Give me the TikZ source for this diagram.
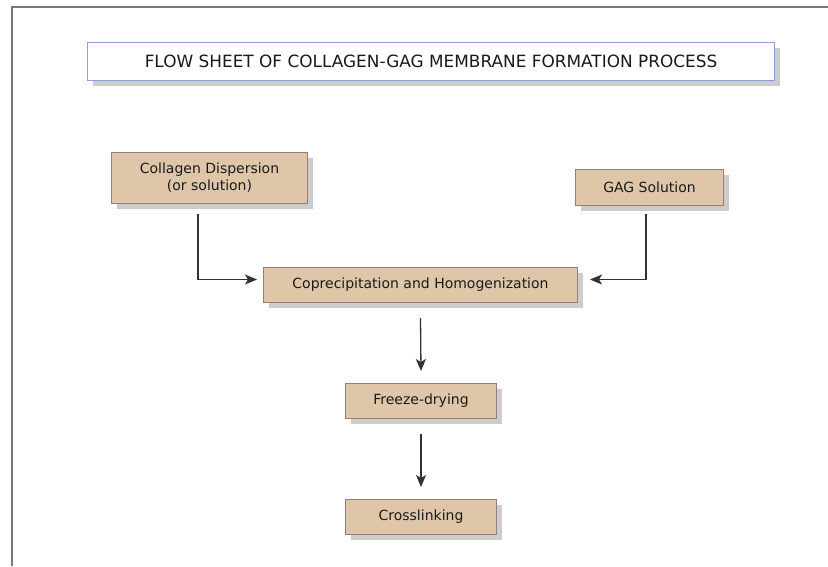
\documentclass[tikz,border=0pt]{standalone}
\usepackage{fontspec}
\setmainfont{DejaVu Sans}
\usetikzlibrary{shadows,arrows.meta,calc}
\definecolor{framec}{HTML}{6E7B85}
\definecolor{boxfill}{HTML}{DFC6A9}
\definecolor{boxline}{HTML}{9C7C78}
\definecolor{titleline}{HTML}{8C9FD6}
\definecolor{shadowc}{HTML}{CCCCCC}
\definecolor{linec}{HTML}{333333}
\definecolor{txt}{HTML}{1A1A1A}
\tikzset{
  stepbox/.style={draw=boxline, line width=1pt, fill=boxfill, anchor=north west,
    inner sep=0pt, align=center, text=txt, font=\fontsize{14}{17}\selectfont,
    drop shadow={shadow xshift=5pt, shadow yshift=-5pt, fill=shadowc, opacity=1}},
  titlebox/.style={draw=titleline, line width=1pt, fill=white, anchor=north west,
    inner sep=0pt, text=txt, font=\fontsize{16.9}{20}\selectfont,
    drop shadow={shadow xshift=5pt, shadow yshift=-5pt, fill=shadowc, opacity=1}},
  arr/.style={draw=linec, line width=1.3pt, -{Stealth[length=12pt,width=10pt,inset=3pt]}},
}
\begin{document}
\begin{tikzpicture}[x=1pt,y=-1pt]
\useasboundingbox (0,0) rectangle (828,566);
\fill[white] (0,0) rectangle (828,566);
% frame
\draw[framec, line width=2pt] (12,566) -- (12,7) -- (828,7);
% title
\node[titlebox, minimum width=687pt, minimum height=38pt] (title) at (87,42)
  {FLOW SHEET OF COLLAGEN-GAG MEMBRANE FORMATION PROCESS};
% boxes
\node[stepbox, minimum width=196pt, minimum height=51pt] (coll) at (111,152)
  {Collagen Dispersion\\(or solution)};
\node[stepbox, minimum width=148pt, minimum height=36pt] (gag) at (575,169)
  {GAG Solution};
\node[stepbox, minimum width=314pt, minimum height=35pt] (cop) at (263,267)
  {Coprecipitation and Homogenization};
\node[stepbox, minimum width=151pt, minimum height=35pt] (frz) at (345,383)
  {Freeze-drying};
\node[stepbox, minimum width=151pt, minimum height=35pt] (crs) at (345,499)
  {Crosslinking};
% connector ends
\coordinate (c1) at ($(coll.south west)+(87,10)$);
\coordinate (c2) at ($(cop.west)+(-6,-5.5)$);
\coordinate (g1) at ($(gag.south west)+(71,8)$);
\coordinate (g2) at ($(cop.east)+(12,-5.5)$);
\draw[arr] (c1) |- (c2);
\draw[arr] (g1) |- (g2);
\draw[arr] ([yshift=-15pt]cop.south) -- ([yshift=12pt]frz.north);
\draw[arr] ([yshift=-15pt]frz.south) -- ([yshift=12pt]crs.north);
\end{tikzpicture}
\end{document}
